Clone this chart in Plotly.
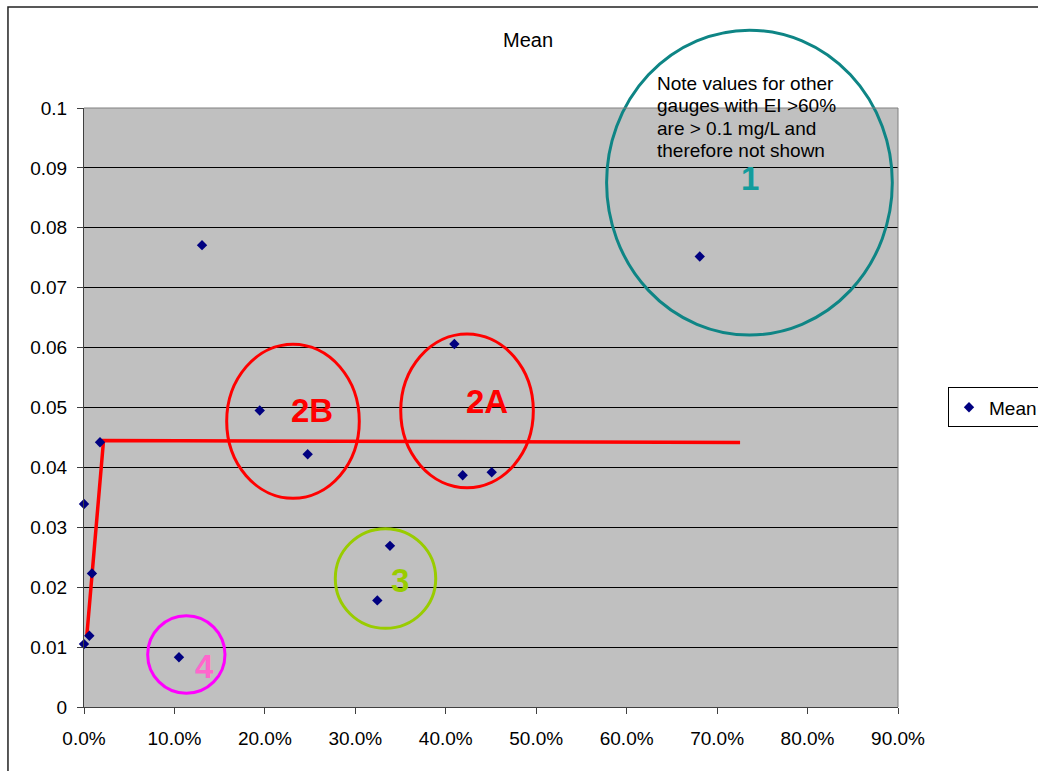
import plotly.graph_objects as go

# EI fraction vs mean concentration (mg/L) per gauge
ei = [0.0, 0.0, 0.0059, 0.0088, 0.0177, 0.105, 0.1305, 0.1943, 0.2473,
      0.3243, 0.3383, 0.4095, 0.4187, 0.4508, 0.6808]
mean_conc = [0.0339, 0.0105, 0.0119, 0.0223, 0.0442, 0.0083, 0.0771, 0.0495,
             0.0422, 0.0178, 0.0269, 0.0606, 0.0387, 0.0392, 0.0752]

# hand-drawn threshold line
line_x = [0.003, 0.0216, 0.7254]
line_y = [0.0117, 0.0445, 0.04415]

x_ticks = [0.0, 0.1, 0.2, 0.3, 0.4, 0.5, 0.6, 0.7, 0.8, 0.9]
y_ticks = [0.0, 0.01, 0.02, 0.03, 0.04, 0.05, 0.06, 0.07, 0.08, 0.09, 0.1]

note_lines = ["Note values for other", "gauges with EI >60%",
              "are > 0.1 mg/L and", "therefore not shown"]

FONT = "Arial, 'Liberation Sans', sans-serif"

fig = go.Figure()
fig.add_trace(go.Scatter(
    x=line_x, y=line_y, mode="lines", showlegend=False, hoverinfo="skip",
    line=dict(color="#FF0000", width=3.5), cliponaxis=False,
))
fig.add_trace(go.Scatter(
    x=ei, y=mean_conc, mode="markers", name="Mean", cliponaxis=False,
    marker=dict(symbol="diamond", color="#000080", size=8),
))

# group circles in paper coordinates: (x0, y0, x1, y1, colour)
circles = [
    (0.642, 0.621, 0.993, 1.130, "#0E8585"),
    (0.1753, 0.3484, 0.3382, 0.6055, "#FF0000"),
    (0.3891, 0.3661, 0.5520, 0.6227, "#FF0000"),
    (0.3087, 0.1314, 0.4321, 0.2977, "#99CC00"),
    (0.0782, 0.0229, 0.1732, 0.1524, "#FF00FF"),
]
shapes = []
for x0, y0, x1, y1, c in circles:
    shapes.append(dict(type="circle", xref="paper", yref="paper",
                       x0=x0, y0=y0, x1=x1, y1=y1,
                       line=dict(color=c, width=3)))
# plot-area border (top and right in grey)
shapes.append(dict(type="line", xref="paper", yref="paper", x0=0, x1=1, y0=1, y1=1,
                   line=dict(color="#808080", width=1)))
shapes.append(dict(type="line", xref="paper", yref="paper", x0=1, x1=1, y0=0, y1=1,
                   line=dict(color="#808080", width=1)))
# outer chart frame
shapes.append(dict(type="rect", xref="paper", yref="paper",
                   x0=-0.0934, y0=-0.2, x1=1.3, y1=1.1686,
                   line=dict(color="#222222", width=1.5)))

# group labels: (text, x, y, colour)
labels = [
    ("1", 0.818, 0.8831, "#139C9C"),
    ("2B", 0.2807, 0.4950, "#FF0000"),
    ("2A", 0.4951, 0.5108, "#FF0000"),
    ("3", 0.3882, 0.2120, "#99CC00"),
    ("4", 0.1486, 0.0684, "#FF66CC"),
]
annotations = []
for t, x, y, c in labels:
    annotations.append(dict(text="<b>%s</b>" % t, x=x, y=y, xref="paper", yref="paper",
                            showarrow=False, xanchor="center", yanchor="middle",
                            font=dict(family=FONT, size=33, color=c)))
# note text, one line per annotation for tight line spacing
note_y = [1.0406, 1.0035, 0.9664, 0.9294]
for txt, y in zip(note_lines, note_y):
    annotations.append(dict(
        text=txt, x=0.7015, y=y, xref="paper", yref="paper", showarrow=False,
        xanchor="left", yanchor="middle", align="left",
        font=dict(family=FONT, size=19, color="#000000"),
    ))
annotations.append(dict(
    text="Mean", x=0.5455, y=1.1135, xref="paper", yref="paper", showarrow=False,
    xanchor="center", yanchor="middle", font=dict(family=FONT, size=20, color="#000000"),
))

fig.update_layout(
    width=1038, height=771, autosize=False,
    margin=dict(l=84, r=140, t=108, b=64),
    paper_bgcolor="white", plot_bgcolor="#C0C0C0",
    font=dict(family=FONT, size=19, color="#000000"),
    shapes=shapes, annotations=annotations,
    legend=dict(xref="container", yref="container",
                x=0.9133, y=0.4715, xanchor="left", yanchor="middle",
                bordercolor="#000000", borderwidth=1, bgcolor="white",
                font=dict(family=FONT, size=19), itemwidth=30,
                tracegroupgap=0),
    showlegend=True,
)
fig.update_xaxes(
    range=[0, 0.9], tickvals=x_ticks, tickformat=".1%",
    showgrid=False, zeroline=False, showline=True, linecolor="#404040", linewidth=1,
    ticks="outside", ticklen=6, tickcolor="#404040", ticklabelstandoff=8,
    tickfont=dict(family=FONT, size=19),
)
fig.update_yaxes(
    range=[0, 0.1], tickvals=y_ticks,
    showgrid=True, gridcolor="#000000", gridwidth=1, zeroline=False,
    showline=True, linecolor="#404040", linewidth=1,
    ticks="outside", ticklen=6, tickcolor="#404040", ticklabelstandoff=6,
    tickfont=dict(family=FONT, size=19),
)

fig.write_html("out.html")
